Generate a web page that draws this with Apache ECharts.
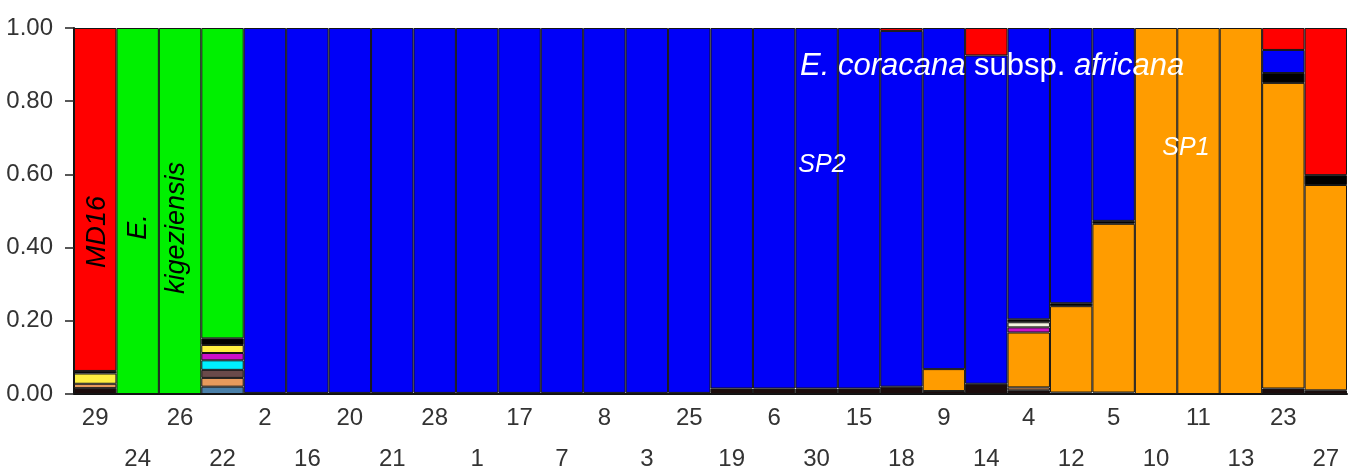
<!DOCTYPE html>
<html>
<head>
<meta charset="utf-8">
<script src="https://cdn.jsdelivr.net/npm/echarts@6/dist/echarts.min.js"></script>
<style>
  html, body { margin: 0; padding: 0; background: #fff; }
  #chart { width: 1371px; height: 475px; }
</style>
</head>
<body>
<div id="chart"></div>
<script>
// individuos en el orden del grafico
const individuos = ['29','24','26','22','2','16','20','21','28','1','17','7','8','3','25','19','6','30','15','18','9','14','4','12','5','10','11','13','23','27'];
const yTicks = ['0.00','0.20','0.40','0.60','0.80','1.00'];

// proporciones de cada cluster (de abajo hacia arriba)
const oscuro   = [0.016,0,0,0,0.003,0.003,0.003,0.003,0.003,0.003,0.003,0.003,0.003,0.003,0.003,0.015,0.015,0.015,0.015,0.02,0.008,0.028,0.01,0.004,0.004,0,0,0,0.015,0.01];
const acero    = [0,0,0,0.02,0,0,0,0,0,0,0,0,0,0,0,0,0,0,0,0,0,0,0,0,0,0,0,0,0,0];
const salmon   = [0.012,0,0,0.024,0,0,0,0,0,0,0,0,0,0,0,0,0,0,0,0,0,0,0.008,0,0,0,0,0,0,0];
const grisOsc  = [0,0,0,0.022,0,0,0,0,0,0,0,0,0,0,0,0,0,0,0,0,0,0,0,0,0,0,0,0,0,0];
const cian     = [0,0,0,0.026,0,0,0,0,0,0,0,0,0,0,0,0,0,0,0,0,0,0,0,0,0,0,0,0,0,0];
const naranja  = [0,0,0,0,0,0,0,0,0,0,0,0,0,0,0,0,0,0,0,0,0.06,0,0.15,0.236,0.461,1,1,1,0.835,0.561];
const magenta  = [0,0,0,0.02,0,0,0,0,0,0,0,0,0,0,0,0,0,0,0,0,0,0,0.014,0,0,0,0,0,0,0];
const blanco   = [0,0,0,0,0,0,0,0,0,0,0,0,0,0,0,0,0,0,0,0,0,0,0.014,0,0,0,0,0,0,0];
const amarillo = [0.028,0,0,0.022,0,0,0,0,0,0,0,0,0,0,0,0,0,0,0,0,0,0,0,0,0,0,0,0,0,0];
const negro    = [0.007,0,0,0.018,0,0,0,0,0,0,0,0,0,0,0,0,0,0,0,0,0,0,0.008,0.008,0.008,0,0,0,0.027,0.027];
const azul     = [0,0,0,0,0.997,0.997,0.997,0.997,0.997,0.997,0.997,0.997,0.997,0.997,0.997,0.985,0.985,0.985,0.985,0.972,0.932,0.897,0.796,0.752,0.527,0,0,0,0.063,0];
const verde    = [0,1,1,0.848,0,0,0,0,0,0,0,0,0,0,0,0,0,0,0,0,0,0,0,0,0,0,0,0,0,0];
const rojo     = [0.937,0,0,0,0,0,0,0,0,0,0,0,0,0,0,0,0,0,0,0.008,0,0.075,0,0,0,0,0,0,0.06,0.402];

const clusters = [
    ['oscuro', oscuro, '#1c0c0c'],
    ['acero', acero, '#4a7fa8'],
    ['salmon', salmon, '#e89a5c'],
    ['grisOsc', grisOsc, '#6a4a4a'],
    ['cian', cian, '#00f0ff'],
    ['naranja', naranja, '#ff9c00'],
    ['magenta', magenta, '#cc10c8'],
    ['blanco', blanco, '#f4f4e0'],
    ['amarillo', amarillo, '#ffef40'],
    ['negro', negro, '#000000'],
    ['azul', azul, '#0000f8'],
    ['verde', verde, '#00f000'],
    ['rojo', rojo, '#ff0000']
];

const fuenteEje = "'Liberation Sans', Arial, sans-serif";
const fuenteTxt = "'Liberation Sans', Arial, sans-serif";

const chart = echarts.init(document.getElementById('chart'));

const series = clusters.map(c => ({
    name: c[0],
    type: 'bar',
    stack: 'q',
    barCategoryGap: 0,
    data: c[1].map(v => v === 0 ? null : v),
    itemStyle: { color: c[2], borderColor: '#151515', borderWidth: 1 },
    emphasis: { disabled: true },
    animation: false
}));

// texto de anotacion encima de las barras
function texto(x, y, t, size, color, rot) {
    return {
        type: 'text', x: x, y: y, z: 100, zlevel: 1, rotation: rot || 0,
        style: {
            text: t, fill: color, fontSize: size, fontStyle: 'italic', fontFamily: fuenteTxt,
            align: 'center', verticalAlign: 'middle'
        }
    };
}

chart.setOption({
    animation: false,
    grid: { left: 74, right: 24, top: 28, bottom: 81, containLabel: false, outerBoundsMode: 'none' },
    xAxis: {
        type: 'category',
        data: individuos,
        axisLine: { lineStyle: { color: '#111', width: 2 } },
        axisTick: { alignWithLabel: true, length: 12, lineStyle: { color: '#222', width: 1.5 } },
        axisLabel: {
            interval: 0,
            margin: 4,
            color: '#333',
            fontFamily: fuenteEje,
            fontSize: 24,
            lineHeight: 41,
            formatter: (v, i) => i % 2 ? '\n' + v : v
        }
    },
    yAxis: {
        type: 'value',
        min: 0,
        max: 1,
        interval: 0.2,
        splitLine: { show: false },
        axisLine: { show: true, lineStyle: { color: '#111', width: 2 } },
        axisTick: { show: true, length: 9, lineStyle: { color: '#222', width: 1.5 } },
        axisLabel: {
            margin: 21,
            color: '#333',
            fontFamily: fuenteEje,
            fontSize: 24,
            formatter: v => yTicks[Math.round(v * 5)]
        }
    },
    series: series,
    graphic: [
        texto(97, 232, 'MD16', 27, '#000', Math.PI / 2),
        texto(138, 227, 'E.', 27, '#000', Math.PI / 2),
        texto(176, 228, 'kigeziensis', 27, '#000', Math.PI / 2),
        {
            type: 'text', x: 800, y: 66, z: 100, zlevel: 1,
            style: {
                text: '{i|E. coracana} {n|subsp.} {i|africana}',
                fill: '#fff', fontSize: 31, fontFamily: fuenteTxt, align: 'left', verticalAlign: 'middle',
                rich: {
                    i: { fontStyle: 'italic', fontSize: 31, fontFamily: fuenteTxt, fill: '#fff' },
                    n: { fontSize: 31, fontFamily: fuenteTxt, fill: '#fff' }
                }
            }
        },
        texto(822, 165, 'SP2', 25, '#fff'),
        texto(1186, 148, 'SP1', 25, '#fff')
    ]
});
</script>
</body>
</html>
